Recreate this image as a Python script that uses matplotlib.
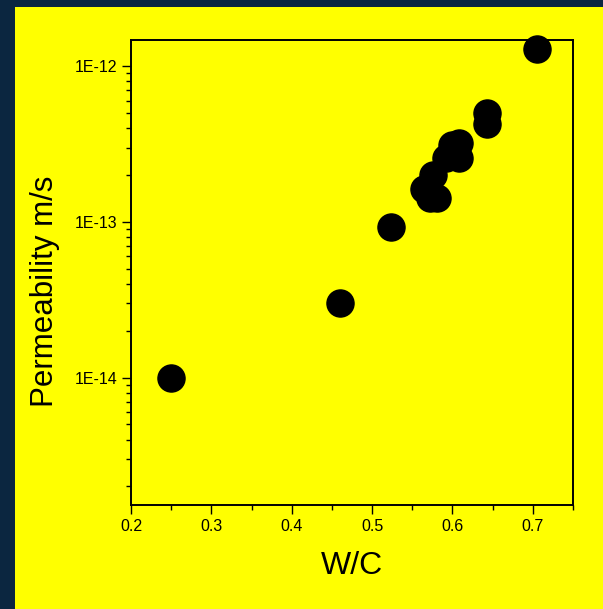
import matplotlib
matplotlib.use("Agg")
import matplotlib.pyplot as plt
import matplotlib.ticker as ticker
from matplotlib.patches import Rectangle
import numpy as np

# W/C ratio vs permeability (m/s)
WC = [0.25, 0.46, 0.524, 0.564, 0.572, 0.581, 0.576, 0.592, 0.608, 0.600, 0.608,
      0.643, 0.643, 0.705]
PERM = [1.0e-14, 3.0e-14, 9.3e-14, 1.63e-13, 1.43e-13, 1.43e-13, 2.0e-13, 2.58e-13,
        2.58e-13, 3.13e-13, 3.2e-13, 5.0e-13, 4.26e-13, 1.29e-12]

XTICKS = [0.2, 0.3, 0.4, 0.5, 0.6, 0.7]
YTICKS = [1e-14, 1e-13, 1e-12]
YTICK_LABELS = ["1E-14", "1E-13", "1E-12"]

BG_DARK = "#0b2640"
YELLOW = "#ffff00"

plt.rcParams["font.family"] = ["Liberation Sans", "DejaVu Sans"]

fig = plt.figure(figsize=(6.03, 6.09), dpi=100)
fig.patch.set_facecolor(BG_DARK)
# yellow panel behind the axes
fig.patches.append(Rectangle((15 / 603, 0), 1 - 15 / 603, 1 - 7 / 609,
                             transform=fig.transFigure, facecolor=YELLOW,
                             edgecolor="none", zorder=-10))

ax = fig.add_axes([131 / 603, 1 - 505 / 609, 442 / 603, 465.3 / 609])
ax.set_facecolor(YELLOW)

ax.plot(WC, PERM, linestyle="none", marker="o", markersize=19.5,
        color="black", clip_on=False, zorder=5)

ax.set_yscale("log")
ax.set_xlim(0.2, 0.75)
ax.set_ylim(1.52e-15, 1.48e-12)

ax.set_xticks(XTICKS)
ax.set_xticklabels([f"{v:.1f}" for v in XTICKS])
ax.xaxis.set_minor_locator(ticker.MultipleLocator(0.05))
ax.set_yticks(YTICKS)
ax.set_yticklabels(YTICK_LABELS)
ax.yaxis.set_minor_locator(ticker.LogLocator(base=10, subs=np.arange(2, 10)))
ax.yaxis.set_minor_formatter(ticker.NullFormatter())

ax.tick_params(which="major", direction="out", length=6.3, width=1.0,
               labelsize=11.5, pad=3.5, color="black")
ax.tick_params(which="minor", direction="out", length=3.6, width=1.0, color="black")

for sp in ax.spines.values():
    sp.set_linewidth(1.4)

ax.set_xlabel("W/C", fontsize=23)
ax.set_ylabel("Permeability m/s", fontsize=22.5)
ax.xaxis.set_label_coords(0.5, -0.099)
ax.yaxis.set_label_coords(-0.16, 0.46)

fig.savefig("out.png", dpi=100, facecolor=fig.get_facecolor())
